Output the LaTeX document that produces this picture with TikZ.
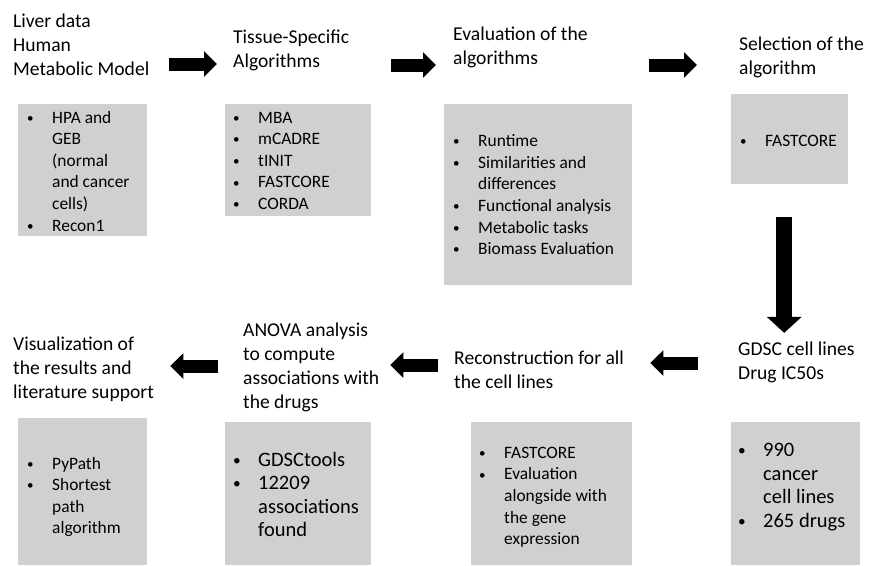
\documentclass[tikz,border=0pt]{standalone}
\usepackage{fontspec}
\setmainfont{Carlito}
\usetikzlibrary{arrows.meta,calc,positioning}
\definecolor{panelgray}{RGB}{208,208,208}
\newcommand{\rows}[1]{\begin{tabular}[t]{@{}l@{}}#1\end{tabular}}
\newcommand{\bul}{\makebox[26pt][l]{\hspace{1pt}\raisebox{0.8pt}{\scalebox{0.75}{\textbullet}}}}
\newcommand{\nobul}{\hspace*{26pt}}

\begin{document}
\begin{tikzpicture}[x=1pt,y=-1pt,
    title/.style={anchor=base west,inner sep=0pt,font=\fontsize{19.6}{24.2}\selectfont},
    panel/.style={anchor=north west,inner sep=0pt,fill=panelgray},
    items/.style={anchor=base west,inner sep=0pt,font=\fontsize{17.4}{21.6}\selectfont},
    bigitems/.style={items,font=\fontsize{20.5}{23.6}\selectfont},
    flow/.style={line width=13pt,-{Triangle[length=13pt,width=25pt]}},
    down/.style={line width=16pt,-{Triangle[length=16pt,width=34pt]}}
]
    \path[use as bounding box,fill=white] (0,0) rectangle (870,565);

    \node[panel,minimum width=129pt,minimum height=132pt] (b1) at (18,104) {};
    \node[panel,minimum width=146pt,minimum height=112pt] (b2) at (225,104) {};
    \node[panel,minimum width=188pt,minimum height=181pt] (b3) at (444,104) {};
    \node[panel,minimum width=117pt,minimum height=90pt] (b4) at (731,94) {};
    \node[panel,minimum width=129pt,minimum height=143pt] (b5) at (731,422) {};
    \node[panel,minimum width=161pt,minimum height=143pt] (b6) at (471,422) {};
    \node[panel,minimum width=146pt,minimum height=143pt] (b7) at (225,422) {};
    \node[panel,minimum width=129pt,minimum height=147pt] (b8) at (18,418) {};

    \node[title] (t1) at (13,27) {\rows{Liver data\\Human\\Metabolic Model}};
    \node[title] (t2) at (233,43) {\rows{Tissue-Specific\\Algorithms}};
    \node[title] (t3) at (453,40) {\rows{Evaluation of the\\algorithms}};
    \node[title] (t4) at (739,50) {\rows{Selection of the\\algorithm}};
    \node[title] (t5) at (738,355) {\rows{GDSC cell lines\\Drug IC50s}};
    \node[title] (t6) at (454,364) {\rows{Reconstruction for all\\the cell lines}};
    \node[title] (t7) at (243,336) {\rows{ANOVA analysis\\to compute\\associations with\\the drugs}};
    \node[title] (t8) at (13,350) {\rows{Visualization of\\the results and\\literature support}};

    \node[items] (l1) at (26,123) {\rows{\bul HPA and\\\nobul GEB\\\nobul (normal\\\nobul and cancer\\\nobul cells)\\\bul Recon1}};
    \node[items] (l2) at (232,123) {\rows{\bul MBA\\\bul mCADRE\\\bul tINIT\\\bul FASTCORE\\\bul CORDA}};
    \node[items] (l3) at (452,146.7) {\rows{\bul Runtime\\\bul Similarities and\\\nobul differences\\\bul Functional analysis\\\bul Metabolic tasks\\\bul Biomass Evaluation}};
    \node[items] (l4) at (739,146) {\rows{\bul FASTCORE}};
    \node[bigitems] (l5) at (737,456.7) {\rows{\bul 990\\\nobul cancer\\\nobul cell lines\\\bul 265 drugs}};
    \node[items] (l6) at (478,458.3) {\rows{\bul FASTCORE\\\bul Evaluation\\\nobul alongside with\\\nobul the gene\\\nobul expression}};
    \node[bigitems] (l7) at (232,466) {\rows{\bul GDSCtools\\\bul 12209\\\nobul associations\\\nobul found}};
    \node[items] (l8) at (26,469) {\rows{\bul PyPath\\\bul Shortest\\\nobul path\\\nobul algorithm}};

    \draw[flow,shorten <=22pt,shorten >=8pt] ([yshift=40pt]b1.north east) -- ([yshift=40pt]b1.north east -| b2.west);
    \draw[flow,shorten <=20pt,shorten >=8pt] ([yshift=39pt]b2.north east) -- ([yshift=39pt]b2.north east -| b3.west);
    \draw[flow,shorten <=17pt,shorten >=34pt] ([yshift=39pt]b3.north east) -- ([yshift=39pt]b3.north east -| b4.west);
    \draw[down,shorten <=33pt,shorten >=5pt] ([xshift=-5.5pt]b4.south) -- ([xshift=-5.5pt]b4.south |- t5.north);
    \draw[flow,shorten <=33pt,shorten >=18pt] ([yshift=59pt]b5.north west) -- ([yshift=59pt]b5.north west -| b6.east);
    \draw[flow,shorten <=33pt,shorten >=19pt] ([yshift=57pt]b6.north west) -- ([yshift=57pt]b6.north west -| b7.east);
    \draw[flow,shorten <=7pt,shorten >=23pt] ([yshift=56pt]b7.north west) -- ([yshift=56pt]b7.north west -| b8.east);
\end{tikzpicture}
\end{document}
